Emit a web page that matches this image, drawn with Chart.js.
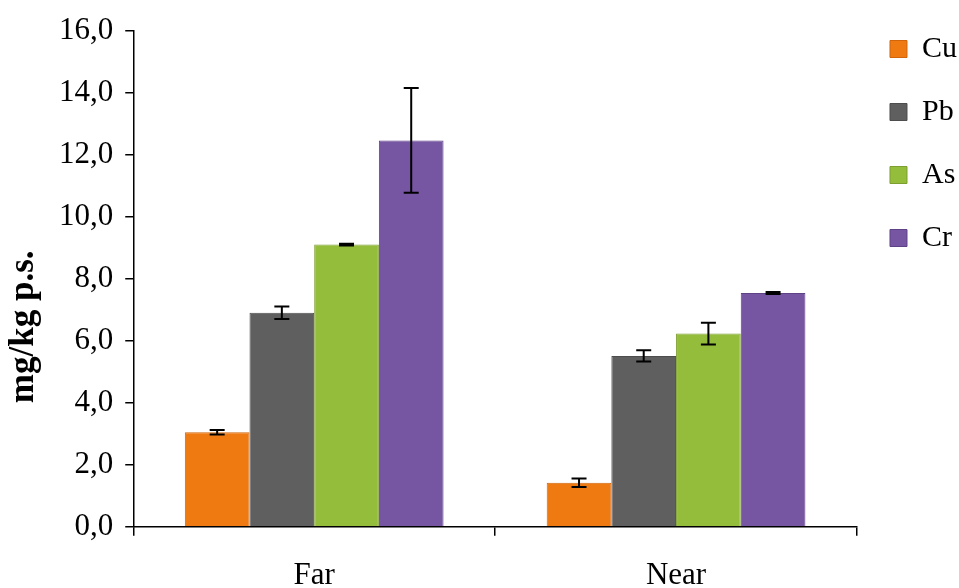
<!DOCTYPE html>
<html>
<head>
<meta charset="utf-8">
<script src="https://cdn.jsdelivr.net/npm/chart.js@4"></script>
<style>
  html, body { margin: 0; padding: 0; background: #fff; overflow: hidden; }
  #wrap { width: 959px; height: 615px; }
</style>
</head>
<body>
<div id="wrap"><canvas id="grafico" width="959" height="615"></canvas></div>
<script>
const sitios = ['Far', 'Near'];
const metales = ['Cu', 'Pb', 'As', 'Cr'];
const colores = ['#f07a12', '#5f5f5f', '#94bd3c', '#7655a2'];
const bordes = ['#d0650c', '#4d4d4d', '#7d9f30', '#5f4286'];

const valCu = [3.05, 1.42];
const valPb = [6.90, 5.51];
const valAs = [9.10, 6.23];
const valCr = [12.46, 7.54];

const errCu = [0.07, 0.14];
const errPb = [0.20, 0.18];
const errAs = [0.03, 0.35];
const errCr = [1.69, 0.03];

const valores = [valCu, valPb, valAs, valCr];
const errores = [errCu, errPb, errAs, errCr];

const fuente = "'Liberation Serif', 'Times New Roman', serif";

// barras de error dibujadas a mano
const barrasError = {
  id: 'barrasError',
  afterDatasetsDraw(chart) {
    const ctx = chart.ctx;
    const y = chart.scales.y;
    ctx.save();
    ctx.strokeStyle = '#000';
    ctx.lineWidth = 2;
    chart.data.datasets.forEach((ds, d) => {
      const meta = chart.getDatasetMeta(d);
      meta.data.forEach((bar, i) => {
        const v = ds.data[i];
        const e = errores[d][i];
        const yTop = y.getPixelForValue(v + e);
        const yBot = y.getPixelForValue(v - e);
        const x = bar.x;
        const w = 7.5;
        ctx.beginPath();
        ctx.moveTo(x, yTop); ctx.lineTo(x, yBot);
        ctx.moveTo(x - w, yTop); ctx.lineTo(x + w, yTop);
        ctx.moveTo(x - w, yBot); ctx.lineTo(x + w, yBot);
        ctx.stroke();
      });
    });
    ctx.restore();
  }
};

const datasets = metales.map((m, k) => ({
  label: m,
  data: valores[k],
  backgroundColor: colores[k],
  borderColor: bordes[k],
  borderWidth: 1,
  barPercentage: 1.0,
  categoryPercentage: 0.715
}));

// el título del eje va algo más abajo que el centro, se compensa con espacios
const tituloY = 'mg/kg p.s.' + '\u00a0'.repeat(11);

new Chart(document.getElementById('grafico').getContext('2d'), {
  type: 'bar',
  data: { labels: sitios, datasets: datasets },
  plugins: [barrasError],
  options: {
    responsive: false,
    animation: false,
    layout: { padding: { left: 1, top: 1, right: -8, bottom: 0 } },
    plugins: {
      legend: {
        position: 'right',
        align: 'start',
        labels: {
          font: { family: fuente, size: 30 },
          color: '#000',
          boxWidth: 17,
          boxHeight: 17,
          padding: 33
        }
      },
      tooltip: { enabled: false }
    },
    scales: {
      x: {
        grid: { drawOnChartArea: false, color: '#000', tickLength: 9, lineWidth: 1.5 },
        border: { color: '#000', width: 1.5 },
        ticks: { font: { family: fuente, size: 31 }, color: '#000', padding: 21 }
      },
      y: {
        min: 0,
        max: 16,
        grid: { drawOnChartArea: false, color: '#000', tickLength: 8, lineWidth: 1.5 },
        border: { color: '#000', width: 1.5 },
        ticks: {
          stepSize: 2,
          font: { family: fuente, size: 31 },
          color: '#000',
          padding: 12,
          callback: v => v.toFixed(1).replace('.', ',')
        },
        title: {
          display: true,
          text: tituloY,
          font: { family: fuente, size: 35, weight: 'bold' },
          color: '#000',
          padding: 2
        }
      }
    }
  }
});
</script>
</body>
</html>
